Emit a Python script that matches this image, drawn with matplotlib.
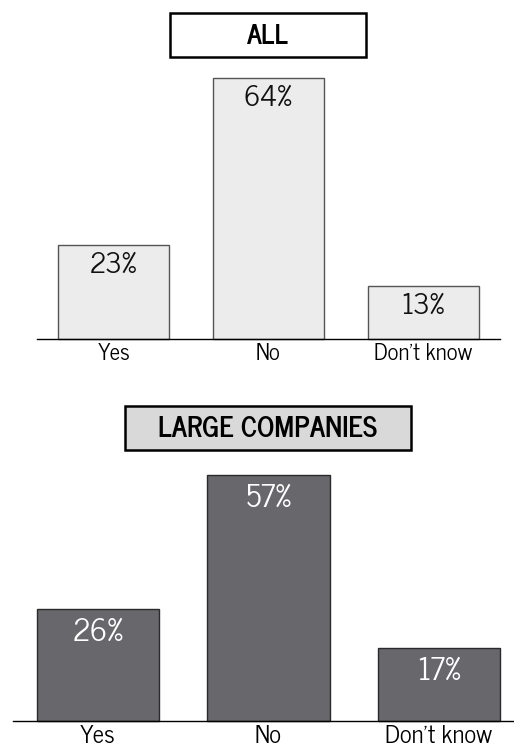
import matplotlib
matplotlib.use("Agg")
import matplotlib.pyplot as plt
from matplotlib.patches import Rectangle

# News Gothic look-alike first, then condensed fallbacks
plt.rcParams['font.family'] = ['News Cycle', 'Roboto Condensed', 'DejaVu Sans']

# data
categories = ["Yes", "No", "Don't know"]
all_values = [23, 64, 13]
large_values = [26, 57, 17]
titles = ["ALL", "LARGE COMPANIES"]

W, H = 514, 749
fig = plt.figure(figsize=(W / 100, H / 100), dpi=100)


def px_axes(x0, x1, y_top, y_base):
	"""axes from pixel coords (measured from top-left)"""
	return fig.add_axes([x0 / W, (H - y_base) / H, (x1 - x0) / W, (y_base - y_top) / H])


def title_box(x0, x1, y0, y1, text, face, size):
	fig.patches.append(Rectangle((x0 / W, (H - y1) / H), (x1 - x0) / W, (y1 - y0) / H,
		transform=fig.transFigure, facecolor=face, edgecolor='black', linewidth=1.8))
	fig.text((x0 + x1) / 2 / W, (H - (y0 + y1) / 2 - 1.5) / H, text, ha='center', va='center',
		fontsize=size, fontweight='bold', color='black')


def draw_bars(ax, values, xlim, face, edge, txt_color, lbl_size, pct_size, pad, off):
	x = list(range(len(values)))
	bars = ax.bar(x, values, width=0.716, color=face, edgecolor=edge, linewidth=1.0, clip_on=False)
	for b, v in zip(bars, values):
		ax.annotate(f"{v}%", (b.get_x() + b.get_width() / 2, v), xytext=(0, off),
			textcoords='offset points', ha='center', va='top', fontsize=pct_size,
			color=txt_color, annotation_clip=False)
	ax.set_xlim(*xlim)
	ax.set_ylim(0, max(values))
	ax.set_xticks(x)
	ax.set_xticklabels(categories, fontsize=lbl_size)
	ax.tick_params(axis='x', length=0, pad=pad)
	ax.set_yticks([])
	for s in ['top', 'left', 'right']:
		ax.spines[s].set_visible(False)
	ax.spines['bottom'].set_linewidth(1.0)
	ax.spines['bottom'].set_color('black')
	ax.patch.set_visible(False)


# top: all respondents
ax1 = px_axes(37, 500, 78, 339)
draw_bars(ax1, all_values, (-0.494, 2.494), '#ebeceb', '#555555', '#111111', 16.5, 20.5, 3, -5)
title_box(170, 366, 13, 57, titles[0], 'white', 19.5)

# bottom: large companies
ax2 = px_axes(13, 514, 475, 721)
draw_bars(ax2, large_values, (-0.4985, 2.44), '#68676c', '#2a2a2a', 'white', 18, 22, 3, -6.5)
title_box(125, 411, 406, 450, titles[1], '#d9d9d9', 20)

fig.savefig("out.png", dpi=100)
